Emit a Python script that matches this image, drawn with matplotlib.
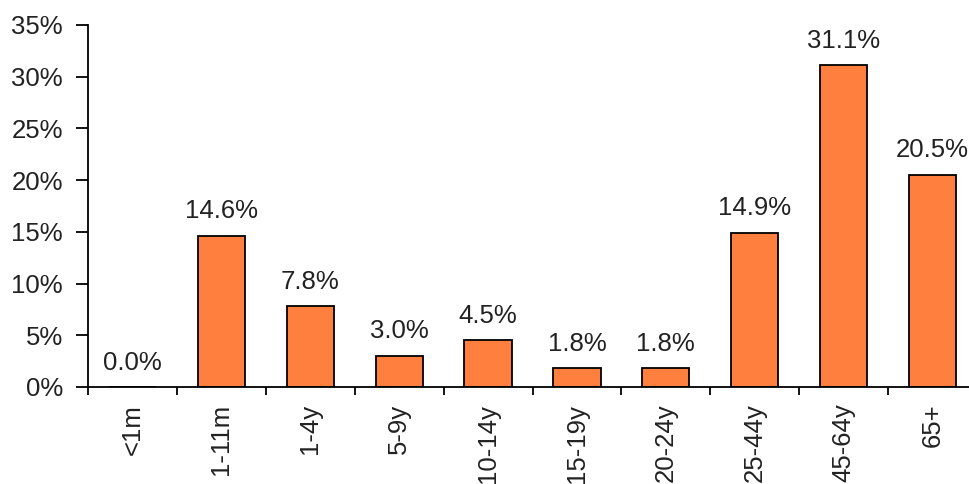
import matplotlib
matplotlib.use("Agg")
import matplotlib.pyplot as plt
import numpy as np
from matplotlib.ticker import FixedLocator, PercentFormatter

categories = ["<1m", "1-11m", "1-4y", "5-9y", "10-14y", "15-19y", "20-24y", "25-44y", "45-64y", "65+"]
values = [0.0, 14.6, 7.8, 3.0, 4.5, 1.8, 1.8, 14.9, 31.1, 20.5]
yticks = [0, 5, 10, 15, 20, 25, 30, 35]

plt.rcParams['font.family'] = ['Liberation Sans', 'DejaVu Sans']

fig = plt.figure(figsize=(9.7, 4.84), dpi=100)
ax = fig.add_axes([88/970, 1 - 387/484, (977 - 88)/970, (387 - 25)/484])

x = np.arange(len(categories))
bars = ax.bar(x, values, width=0.53, color="#FF7F3F", edgecolor="black", linewidth=1.3)

ax.set_xlim(-0.5, len(categories) - 0.5)
ax.set_ylim(0, 35)
ax.set_yticks(yticks)
ax.yaxis.set_major_formatter(PercentFormatter(decimals=0))

fs = 18.5
ax.set_xticks(x)
ax.set_xticklabels(categories, rotation=90, fontsize=fs, color="#222222")
ax.xaxis.set_minor_locator(FixedLocator(np.arange(len(categories)) - 0.5))
ax.tick_params(axis='x', which='major', length=0, pad=12)
ax.tick_params(axis='x', which='minor', length=6, width=1.3, direction='out')
ax.tick_params(axis='y', which='major', length=9, width=1.3, direction='out', labelsize=fs, labelcolor="#222222", pad=9)

for s in ["top", "right"]:
    ax.spines[s].set_visible(False)
for s in ["left", "bottom"]:
    ax.spines[s].set_linewidth(1.3)

for xi, v in zip(x, values):
    ax.annotate(f"{v:.1f}%", (xi, v), xytext=(0, 9), textcoords="offset points",
                ha="center", va="bottom", fontsize=fs, color="#222222")

fig.savefig("out.png", dpi=100)
